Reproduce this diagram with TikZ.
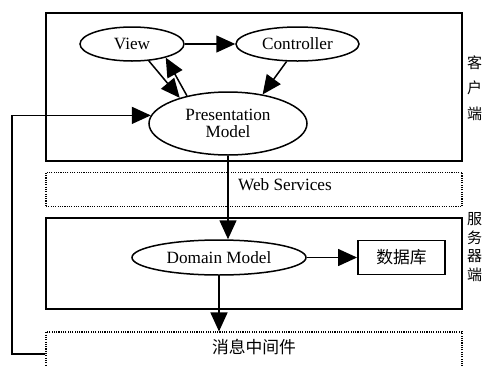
\documentclass[tikz,border=0pt]{standalone}
\usepackage{fontspec}
\setmainfont{Liberation Serif}
\newfontfamily\cjk{Noto Sans CJK SC}
\usetikzlibrary{arrows.meta,shapes.geometric}
\begin{document}
\begin{tikzpicture}[x=1pt,y=-1pt,
  ell/.style={draw,ellipse,line width=1.5pt,inner sep=0pt,align=center,font=\fontsize{17.2}{17}\selectfont},
  arr/.style={line width=1.5pt,-{Triangle[length=19pt,width=17pt]}},
  panel/.style={draw,rectangle,line width=1.9pt,minimum width=416pt,inner sep=0pt},
  dotbox/.style={draw,rectangle,line width=1.1pt,dash pattern=on 1.1pt off 1.2pt,minimum width=416pt,inner sep=0pt},
  lbl/.style={inner sep=0pt,font=\fontsize{17.2}{17}\selectfont},
  cjklbl/.style={inner sep=0pt,font=\cjk\fontsize{16.8}{17}\selectfont},
  sidelbl/.style={inner sep=0pt,align=center,font=\cjk\fontsize{15}{25.5}\selectfont}
]
\useasboundingbox (0,0) rectangle (483,365);
% panels
\node[panel,minimum height=148pt] (client) at (254,87) {};
\node[dotbox,minimum height=34.5pt] (web) at (254,189.5) {};
\node[lbl] (webt) at (285,184.5) {Web Services};
\node[panel,minimum height=91pt] (server) at (254,263.5) {};
\node[dotbox,minimum height=44pt] (mw) at (254,354) {};
\node[cjklbl] (mwt) at (254,347) {消息中间件};
\node[sidelbl] (clbl) at (474.5,88) {客\\户\\端};
\node[sidelbl,font=\cjk\fontsize{15}{18.7}\selectfont] (slbl) at (474.5,247) {服\\务\\器\\端};
% nodes
\node[ell,minimum width=104pt,minimum height=34pt] (view) at (132,44) {View};
\node[ell,minimum width=123pt,minimum height=34pt] (ctrl) at (297.5,44) {Controller};
\node[ell,minimum width=158pt,minimum height=63pt] (pm) at (228,123.5) {Presentation\\Model};
\node[ell,minimum width=174pt,minimum height=35pt] (domain) at (219,257.5) {Domain Model};
\node[draw,rectangle,line width=1.9pt,minimum width=87pt,minimum height=34pt,inner sep=0pt,font=\cjk\fontsize{16.8}{17}\selectfont] (db) at (401.5,257.5) {数据库};
% connectors
\draw[arr] (view) -- (ctrl);
\draw[arr] (view.-45) -- (pm.152);
\draw[arr] (pm.146) -- (view.-22);
\draw[arr] (ctrl.-122) -- (pm.40);
\draw[arr] (pm.south) -- (pm.south |- domain.north);
\draw[arr] (domain) -- (db);
\draw[arr] (domain.south) -- (domain.south |- mw.north);
\coordinate (lft) at (12,354);
\draw[arr] (mw.west) -- (lft) |- (pm.174.5);
\end{tikzpicture}
\end{document}
